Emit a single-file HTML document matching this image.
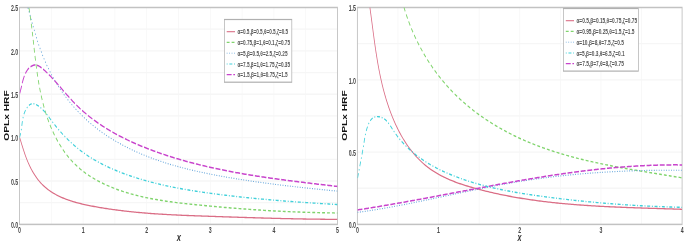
<!DOCTYPE html>
<html><head><meta charset="utf-8"><style>
html,body{margin:0;padding:0;background:#fff;}
svg{display:block;}
</style></head><body>
<svg width="685" height="244" viewBox="0 0 685 244" font-family="'Liberation Sans', Arial, sans-serif">
<defs>
<clipPath id="clipL"><rect x="32.50" y="7.5" width="530.00" height="216.90"/></clipPath>
<clipPath id="clipR"><rect x="595.67" y="7.5" width="541.17" height="216.90"/></clipPath>
</defs>
<rect width="685" height="244" fill="#fff"/>
<g transform="scale(0.6,1)">
<g stroke="#f6f6f6" stroke-width="1.3">
<line x1="85.50" y1="7.5" x2="85.50" y2="224.4"/>
<line x1="138.50" y1="7.5" x2="138.50" y2="224.4"/>
<line x1="191.50" y1="7.5" x2="191.50" y2="224.4"/>
<line x1="244.50" y1="7.5" x2="244.50" y2="224.4"/>
<line x1="297.50" y1="7.5" x2="297.50" y2="224.4"/>
<line x1="350.50" y1="7.5" x2="350.50" y2="224.4"/>
<line x1="403.50" y1="7.5" x2="403.50" y2="224.4"/>
<line x1="456.50" y1="7.5" x2="456.50" y2="224.4"/>
<line x1="509.50" y1="7.5" x2="509.50" y2="224.4"/>
<line x1="32.50" y1="202.71" x2="562.50" y2="202.71"/>
<line x1="32.50" y1="181.02" x2="562.50" y2="181.02"/>
<line x1="32.50" y1="159.33" x2="562.50" y2="159.33"/>
<line x1="32.50" y1="137.64" x2="562.50" y2="137.64"/>
<line x1="32.50" y1="115.95" x2="562.50" y2="115.95"/>
<line x1="32.50" y1="94.26" x2="562.50" y2="94.26"/>
<line x1="32.50" y1="72.57" x2="562.50" y2="72.57"/>
<line x1="32.50" y1="50.88" x2="562.50" y2="50.88"/>
<line x1="32.50" y1="29.19" x2="562.50" y2="29.19"/>
<line x1="663.31" y1="7.5" x2="663.31" y2="224.4"/>
<line x1="730.96" y1="7.5" x2="730.96" y2="224.4"/>
<line x1="798.60" y1="7.5" x2="798.60" y2="224.4"/>
<line x1="866.25" y1="7.5" x2="866.25" y2="224.4"/>
<line x1="933.90" y1="7.5" x2="933.90" y2="224.4"/>
<line x1="1001.54" y1="7.5" x2="1001.54" y2="224.4"/>
<line x1="1069.19" y1="7.5" x2="1069.19" y2="224.4"/>
<line x1="595.67" y1="188.25" x2="1136.83" y2="188.25"/>
<line x1="595.67" y1="152.10" x2="1136.83" y2="152.10"/>
<line x1="595.67" y1="115.95" x2="1136.83" y2="115.95"/>
<line x1="595.67" y1="79.80" x2="1136.83" y2="79.80"/>
<line x1="595.67" y1="43.65" x2="1136.83" y2="43.65"/>
</g>
<g fill="none" stroke="#c2c2c2" stroke-width="1.5">
<rect x="32.50" y="7.5" width="530.00" height="216.90"/>
<rect x="595.67" y="7.5" width="541.17" height="216.90"/>
</g>
<path d="M32.85,137.71 L33.39,138.76 L33.93,139.82 L34.48,140.90 L35.03,141.98 L35.58,143.08 L36.14,144.18 L36.71,145.29 L37.28,146.40 L37.87,147.52 L38.46,148.65 L39.06,149.78 L39.68,150.91 L40.31,152.05 L40.95,153.18 L41.60,154.32 L42.27,155.46 L42.96,156.60 L43.67,157.73 L44.39,158.87 L45.13,160.00 L45.90,161.13 L46.68,162.25 L47.48,163.37 L48.31,164.48 L49.16,165.58 L50.04,166.68 L50.94,167.77 L51.87,168.85 L52.82,169.91 L53.79,170.97 L54.79,172.02 L55.81,173.06 L56.86,174.08 L57.93,175.09 L59.03,176.08 L60.16,177.06 L61.31,178.03 L62.48,178.97 L63.68,179.90 L64.91,180.82 L66.17,181.71 L67.45,182.59 L68.75,183.44 L70.08,184.28 L71.44,185.09 L72.83,185.88 L74.24,186.65 L75.67,187.41 L77.13,188.14 L78.61,188.86 L80.11,189.55 L81.64,190.23 L83.18,190.89 L84.75,191.54 L86.34,192.16 L87.95,192.77 L89.58,193.36 L91.23,193.94 L92.90,194.50 L94.58,195.04 L96.29,195.57 L98.01,196.08 L99.74,196.58 L101.50,197.07 L103.26,197.54 L105.05,198.00 L106.84,198.44 L108.65,198.87 L110.48,199.29 L112.31,199.70 L114.16,200.09 L116.02,200.48 L117.90,200.85 L119.78,201.21 L121.67,201.56 L123.57,201.90 L125.48,202.24 L127.40,202.56 L129.33,202.87 L131.26,203.17 L133.21,203.47 L135.15,203.76 L137.11,204.04 L139.07,204.31 L141.03,204.57 L143.00,204.83 L144.97,205.08 L146.94,205.33 L148.92,205.57 L150.90,205.80 L152.88,206.03 L154.86,206.26 L156.84,206.48 L158.82,206.70 L160.80,206.91 L162.79,207.12 L164.76,207.32 L166.74,207.53 L168.72,207.73 L170.70,207.92 L172.68,208.11 L174.65,208.30 L176.63,208.49 L178.60,208.67 L180.57,208.85 L182.55,209.03 L184.52,209.20 L186.49,209.37 L188.46,209.53 L190.43,209.70 L192.40,209.86 L194.37,210.02 L196.34,210.17 L198.31,210.32 L200.27,210.47 L202.24,210.62 L204.21,210.76 L206.17,210.90 L208.14,211.04 L210.10,211.18 L212.07,211.31 L214.03,211.44 L215.99,211.57 L217.96,211.69 L219.92,211.82 L221.88,211.94 L223.84,212.06 L225.80,212.17 L227.77,212.28 L229.73,212.40 L231.69,212.50 L233.65,212.61 L235.61,212.72 L237.57,212.82 L239.53,212.92 L241.48,213.02 L243.44,213.11 L245.40,213.21 L247.36,213.30 L249.32,213.39 L251.28,213.48 L253.23,213.56 L255.19,213.65 L257.15,213.73 L259.11,213.81 L261.06,213.89 L263.02,213.97 L264.98,214.04 L266.93,214.12 L268.89,214.19 L270.85,214.26 L272.81,214.33 L274.76,214.40 L276.72,214.47 L278.68,214.54 L280.63,214.60 L282.59,214.66 L284.55,214.72 L286.51,214.78 L288.46,214.84 L290.42,214.90 L292.38,214.96 L294.34,215.02 L296.29,215.07 L298.25,215.12 L300.21,215.18 L302.17,215.23 L304.13,215.28 L306.09,215.33 L308.04,215.38 L310.00,215.43 L311.96,215.48 L313.92,215.52 L315.88,215.57 L317.84,215.62 L319.81,215.66 L321.77,215.71 L323.73,215.75 L325.69,215.79 L327.65,215.84 L329.62,215.88 L331.58,215.92 L333.54,215.97 L335.51,216.01 L337.47,216.05 L339.44,216.09 L341.40,216.13 L343.37,216.17 L345.33,216.21 L347.30,216.25 L349.27,216.29 L351.24,216.33 L353.21,216.37 L355.17,216.41 L357.14,216.46 L359.12,216.50 L361.09,216.54 L363.06,216.58 L365.03,216.62 L367.00,216.66 L368.97,216.70 L370.95,216.74 L372.92,216.78 L374.90,216.82 L376.87,216.86 L378.85,216.90 L380.82,216.94 L382.80,216.98 L384.77,217.02 L386.75,217.06 L388.73,217.09 L390.70,217.13 L392.68,217.17 L394.66,217.21 L396.63,217.25 L398.61,217.29 L400.59,217.33 L402.57,217.37 L404.55,217.40 L406.53,217.44 L408.51,217.48 L410.49,217.52 L412.47,217.55 L414.45,217.59 L416.43,217.63 L418.41,217.67 L420.39,217.70 L422.37,217.74 L424.35,217.77 L426.33,217.81 L428.31,217.85 L430.29,217.88 L432.27,217.92 L434.25,217.95 L436.23,217.99 L438.21,218.02 L440.19,218.05 L442.17,218.09 L444.15,218.12 L446.13,218.15 L448.11,218.19 L450.09,218.22 L452.07,218.25 L454.05,218.28 L456.03,218.31 L458.01,218.35 L459.99,218.38 L461.97,218.41 L463.95,218.44 L465.93,218.47 L467.90,218.50 L469.88,218.53 L471.86,218.55 L473.84,218.58 L475.82,218.61 L477.79,218.64 L479.77,218.66 L481.75,218.69 L483.72,218.72 L485.70,218.74 L487.68,218.77 L489.65,218.79 L491.63,218.82 L493.60,218.84 L495.57,218.87 L497.55,218.89 L499.52,218.91 L501.49,218.93 L503.47,218.96 L505.44,218.98 L507.41,219.00 L509.38,219.02 L511.35,219.04 L513.32,219.06 L515.29,219.08 L517.26,219.09 L519.23,219.11 L521.20,219.13 L523.16,219.15 L525.13,219.16 L527.10,219.18 L529.06,219.19 L531.03,219.21 L532.99,219.22 L534.95,219.23 L536.92,219.25 L538.88,219.26 L540.84,219.27 L542.80,219.28 L544.76,219.29 L546.72,219.30 L548.68,219.31 L550.63,219.32 L552.59,219.32 L554.55,219.33 L556.50,219.34 L558.45,219.34 L560.41,219.35 L562.36,219.35" fill="none" stroke="#da6d85" stroke-width="1.3" clip-path="url(#clipL)"/>
<path d="M48.24,7.82 L48.63,9.22 L49.01,10.62 L49.38,12.03 L49.74,13.44 L50.09,14.86 L50.44,16.27 L50.77,17.69 L51.10,19.12 L51.43,20.54 L51.75,21.97 L52.06,23.40 L52.36,24.84 L52.66,26.28 L52.96,27.72 L53.25,29.16 L53.54,30.60 L53.82,32.05 L54.10,33.50 L54.38,34.95 L54.66,36.40 L54.93,37.86 L55.21,39.31 L55.48,40.77 L55.75,42.23 L56.02,43.69 L56.29,45.15 L56.56,46.61 L56.83,48.08 L57.10,49.54 L57.38,51.01 L57.66,52.47 L57.94,53.94 L58.22,55.40 L58.50,56.87 L58.79,58.34 L59.08,59.81 L59.38,61.27 L59.68,62.74 L59.99,64.21 L60.30,65.68 L60.62,67.14 L60.95,68.61 L61.28,70.08 L61.62,71.54 L61.97,73.01 L62.32,74.47 L62.69,75.93 L63.06,77.39 L63.44,78.86 L63.83,80.31 L64.23,81.77 L64.64,83.23 L65.07,84.68 L65.50,86.14 L65.95,87.59 L66.40,89.04 L66.87,90.48 L67.36,91.93 L67.85,93.37 L68.36,94.81 L68.88,96.25 L69.42,97.69 L69.97,99.12 L70.54,100.55 L71.12,101.98 L71.72,103.40 L72.34,104.82 L72.97,106.24 L73.62,107.65 L74.29,109.06 L74.97,110.47 L75.68,111.88 L76.40,113.28 L77.14,114.67 L77.90,116.07 L78.68,117.46 L79.48,118.84 L80.30,120.22 L81.15,121.60 L82.01,122.97 L82.90,124.34 L83.81,125.70 L84.74,127.06 L85.69,128.41 L86.67,129.76 L87.67,131.10 L88.70,132.43 L89.75,133.76 L90.82,135.08 L91.91,136.40 L93.03,137.70 L94.18,139.00 L95.35,140.29 L96.54,141.57 L97.76,142.85 L99.00,144.11 L100.27,145.36 L101.56,146.60 L102.88,147.83 L104.22,149.05 L105.59,150.26 L106.98,151.45 L108.40,152.63 L109.85,153.80 L111.32,154.96 L112.82,156.10 L114.35,157.23 L115.90,158.34 L117.48,159.44 L119.08,160.53 L120.72,161.59 L122.38,162.65 L124.06,163.68 L125.78,164.70 L127.52,165.70 L129.29,166.69 L131.09,167.65 L132.92,168.60 L134.77,169.53 L136.65,170.44 L138.55,171.34 L140.48,172.21 L142.43,173.08 L144.40,173.92 L146.39,174.75 L148.41,175.56 L150.45,176.35 L152.50,177.13 L154.58,177.90 L156.67,178.65 L158.78,179.38 L160.90,180.10 L163.04,180.80 L165.20,181.49 L167.37,182.16 L169.55,182.82 L171.75,183.47 L173.96,184.10 L176.17,184.72 L178.40,185.33 L180.64,185.92 L182.89,186.50 L185.14,187.06 L187.40,187.62 L189.67,188.16 L191.94,188.69 L194.22,189.20 L196.51,189.71 L198.81,190.20 L201.11,190.68 L203.42,191.15 L205.73,191.61 L208.05,192.06 L210.37,192.50 L212.70,192.93 L215.04,193.35 L217.38,193.75 L219.73,194.15 L222.08,194.54 L224.44,194.92 L226.80,195.29 L229.17,195.64 L231.54,196.00 L233.91,196.34 L236.29,196.67 L238.68,197.00 L241.06,197.31 L243.46,197.62 L245.85,197.92 L248.25,198.21 L250.65,198.50 L253.06,198.78 L255.47,199.05 L257.88,199.31 L260.30,199.57 L262.72,199.82 L265.14,200.07 L267.56,200.31 L269.99,200.54 L272.41,200.77 L274.84,200.99 L277.28,201.21 L279.71,201.42 L282.14,201.62 L284.58,201.82 L287.02,202.02 L289.46,202.21 L291.90,202.40 L294.34,202.59 L296.79,202.77 L299.23,202.94 L301.67,203.12 L304.12,203.29 L306.56,203.45 L309.01,203.62 L311.45,203.78 L313.90,203.94 L316.34,204.10 L318.79,204.25 L321.23,204.40 L323.68,204.55 L326.12,204.70 L328.56,204.85 L331.00,205.00 L333.44,205.14 L335.88,205.29 L338.32,205.43 L340.75,205.57 L343.19,205.71 L345.62,205.85 L348.06,205.99 L350.49,206.13 L352.92,206.27 L355.36,206.40 L357.79,206.54 L360.22,206.67 L362.65,206.80 L365.08,206.93 L367.51,207.06 L369.93,207.19 L372.36,207.31 L374.79,207.44 L377.21,207.56 L379.64,207.69 L382.07,207.81 L384.49,207.93 L386.92,208.05 L389.34,208.17 L391.77,208.28 L394.19,208.40 L396.62,208.51 L399.04,208.62 L401.46,208.74 L403.89,208.85 L406.31,208.95 L408.74,209.06 L411.16,209.17 L413.58,209.27 L416.01,209.38 L418.43,209.48 L420.86,209.58 L423.28,209.68 L425.70,209.78 L428.13,209.87 L430.55,209.97 L432.98,210.06 L435.41,210.16 L437.83,210.25 L440.26,210.34 L442.69,210.43 L445.11,210.51 L447.54,210.60 L449.97,210.69 L452.40,210.77 L454.83,210.85 L457.26,210.93 L459.69,211.01 L462.12,211.09 L464.55,211.16 L466.99,211.24 L469.42,211.31 L471.85,211.38 L474.29,211.45 L476.73,211.52 L479.16,211.59 L481.60,211.65 L484.04,211.72 L486.48,211.78 L488.92,211.84 L491.36,211.90 L493.81,211.96 L496.25,212.02 L498.70,212.07 L501.14,212.13 L503.59,212.18 L506.04,212.23 L508.49,212.28 L510.95,212.33 L513.40,212.37 L515.85,212.42 L518.31,212.46 L520.77,212.50 L523.23,212.54 L525.69,212.58 L528.15,212.62 L530.61,212.65 L533.08,212.69 L535.55,212.72 L538.02,212.75 L540.49,212.78 L542.96,212.81 L545.43,212.83 L547.91,212.86 L550.39,212.88 L552.87,212.90 L555.35,212.92 L557.83,212.94 L560.32,212.95 L562.81,212.97" fill="none" stroke="#80d46d" stroke-width="1.4" stroke-dasharray="4.8,3.4" clip-path="url(#clipL)"/>
<path d="M46.45,7.49 L47.03,8.75 L47.62,10.01 L48.20,11.28 L48.78,12.55 L49.37,13.82 L49.95,15.09 L50.53,16.36 L51.12,17.63 L51.70,18.90 L52.29,20.17 L52.88,21.44 L53.47,22.71 L54.06,23.99 L54.66,25.26 L55.26,26.53 L55.87,27.80 L56.48,29.07 L57.09,30.34 L57.71,31.61 L58.34,32.88 L58.97,34.15 L59.61,35.41 L60.25,36.68 L60.91,37.94 L61.57,39.20 L62.24,40.46 L62.91,41.72 L63.60,42.97 L64.29,44.23 L65.00,45.48 L65.72,46.73 L66.44,47.97 L67.18,49.21 L67.93,50.45 L68.69,51.69 L69.46,52.92 L70.25,54.15 L71.04,55.38 L71.86,56.60 L72.68,57.82 L73.52,59.04 L74.37,60.25 L75.24,61.46 L76.12,62.66 L77.02,63.86 L77.92,65.05 L78.85,66.25 L79.78,67.43 L80.73,68.61 L81.70,69.79 L82.68,70.97 L83.67,72.14 L84.68,73.30 L85.70,74.46 L86.73,75.62 L87.78,76.77 L88.85,77.91 L89.92,79.06 L91.01,80.19 L92.12,81.32 L93.24,82.45 L94.37,83.57 L95.52,84.69 L96.68,85.80 L97.86,86.91 L99.05,88.01 L100.26,89.10 L101.48,90.19 L102.71,91.28 L103.96,92.36 L105.22,93.43 L106.50,94.50 L107.79,95.56 L109.10,96.62 L110.42,97.67 L111.75,98.72 L113.10,99.76 L114.46,100.79 L115.84,101.82 L117.23,102.84 L118.64,103.86 L120.05,104.86 L121.49,105.87 L122.93,106.86 L124.39,107.85 L125.86,108.83 L127.35,109.81 L128.85,110.77 L130.36,111.73 L131.88,112.69 L133.42,113.63 L134.97,114.57 L136.53,115.50 L138.10,116.43 L139.69,117.34 L141.29,118.25 L142.90,119.15 L144.52,120.05 L146.16,120.93 L147.81,121.81 L149.46,122.67 L151.13,123.53 L152.82,124.38 L154.51,125.23 L156.21,126.06 L157.93,126.89 L159.65,127.70 L161.39,128.51 L163.13,129.31 L164.89,130.11 L166.66,130.89 L168.43,131.67 L170.22,132.43 L172.02,133.19 L173.82,133.94 L175.64,134.69 L177.46,135.42 L179.29,136.15 L181.13,136.87 L182.98,137.58 L184.84,138.28 L186.70,138.98 L188.58,139.67 L190.46,140.35 L192.35,141.02 L194.24,141.69 L196.14,142.34 L198.05,142.99 L199.97,143.64 L201.89,144.27 L203.82,144.90 L205.76,145.52 L207.70,146.13 L209.64,146.74 L211.60,147.34 L213.55,147.93 L215.52,148.51 L217.49,149.09 L219.46,149.66 L221.44,150.22 L223.42,150.78 L225.41,151.33 L227.40,151.87 L229.40,152.40 L231.41,152.93 L233.41,153.46 L235.43,153.97 L237.44,154.48 L239.47,154.98 L241.49,155.48 L243.52,155.97 L245.56,156.46 L247.60,156.93 L249.64,157.41 L251.69,157.87 L253.74,158.33 L255.79,158.79 L257.85,159.24 L259.92,159.68 L261.98,160.12 L264.05,160.55 L266.13,160.98 L268.21,161.40 L270.29,161.81 L272.37,162.22 L274.46,162.63 L276.55,163.03 L278.65,163.42 L280.74,163.81 L282.84,164.19 L284.95,164.57 L287.05,164.95 L289.16,165.32 L291.28,165.68 L293.39,166.04 L295.51,166.40 L297.63,166.75 L299.75,167.09 L301.88,167.44 L304.01,167.77 L306.14,168.11 L308.27,168.44 L310.40,168.76 L312.54,169.08 L314.68,169.40 L316.82,169.71 L318.97,170.02 L321.11,170.32 L323.26,170.63 L325.41,170.92 L327.56,171.22 L329.71,171.51 L331.86,171.79 L334.02,172.08 L336.17,172.36 L338.33,172.63 L340.49,172.90 L342.65,173.17 L344.81,173.44 L346.97,173.70 L349.14,173.97 L351.30,174.22 L353.47,174.48 L355.63,174.73 L357.80,174.98 L359.97,175.23 L362.13,175.47 L364.30,175.71 L366.47,175.95 L368.64,176.19 L370.81,176.42 L372.98,176.65 L375.15,176.88 L377.32,177.11 L379.49,177.33 L381.66,177.56 L383.83,177.78 L386.01,178.00 L388.18,178.21 L390.35,178.43 L392.52,178.64 L394.69,178.85 L396.85,179.06 L399.02,179.27 L401.19,179.48 L403.36,179.68 L405.53,179.88 L407.70,180.09 L409.87,180.29 L412.04,180.48 L414.21,180.68 L416.38,180.87 L418.55,181.07 L420.72,181.26 L422.89,181.45 L425.06,181.64 L427.23,181.82 L429.40,182.01 L431.57,182.19 L433.74,182.37 L435.91,182.55 L438.08,182.73 L440.25,182.91 L442.42,183.09 L444.59,183.26 L446.76,183.44 L448.93,183.61 L451.11,183.78 L453.28,183.95 L455.45,184.12 L457.62,184.28 L459.80,184.45 L461.97,184.61 L464.14,184.78 L466.32,184.94 L468.49,185.10 L470.67,185.26 L472.84,185.42 L475.02,185.57 L477.20,185.73 L479.37,185.89 L481.55,186.04 L483.73,186.19 L485.91,186.34 L488.09,186.49 L490.27,186.64 L492.45,186.79 L494.63,186.94 L496.81,187.09 L498.99,187.23 L501.18,187.38 L503.36,187.52 L505.54,187.66 L507.73,187.81 L509.91,187.95 L512.10,188.09 L514.29,188.23 L516.48,188.37 L518.67,188.50 L520.85,188.64 L523.05,188.78 L525.24,188.91 L527.43,189.05 L529.62,189.18 L531.82,189.31 L534.01,189.45 L536.21,189.58 L538.40,189.71 L540.60,189.84 L542.80,189.97 L545.00,190.10 L547.20,190.23 L549.40,190.36 L551.60,190.49 L553.81,190.61 L556.01,190.74 L558.22,190.87 L560.42,190.99 L562.63,191.12" fill="none" stroke="#5a9fd8" stroke-width="1.15" stroke-dasharray="1.4,2.7" clip-path="url(#clipL)"/>
<path d="M32.34,137.50 L33.03,136.36 L33.63,135.21 L34.15,134.04 L34.60,132.86 L34.99,131.66 L35.33,130.45 L35.64,129.23 L35.91,127.99 L36.17,126.75 L36.41,125.50 L36.66,124.25 L36.92,122.99 L37.20,121.72 L37.52,120.45 L37.88,119.19 L38.29,117.92 L38.76,116.65 L39.31,115.38 L39.94,114.12 L40.67,112.86 L41.49,111.62 L42.42,110.40 L43.43,109.23 L44.54,108.12 L45.72,107.09 L46.99,106.17 L48.34,105.36 L49.76,104.69 L51.25,104.18 L52.80,103.84 L54.41,103.69 L56.08,103.73 L57.79,103.96 L59.52,104.35 L61.26,104.87 L63.01,105.51 L64.73,106.24 L66.43,107.04 L68.08,107.90 L69.67,108.78 L71.21,109.69 L72.69,110.61 L74.11,111.55 L75.50,112.51 L76.84,113.47 L78.16,114.45 L79.44,115.44 L80.70,116.43 L81.95,117.43 L83.18,118.43 L84.41,119.43 L85.64,120.43 L86.88,121.43 L88.12,122.43 L89.38,123.42 L90.66,124.41 L91.94,125.39 L93.24,126.36 L94.56,127.33 L95.88,128.29 L97.22,129.25 L98.58,130.20 L99.94,131.14 L101.32,132.08 L102.71,133.01 L104.11,133.94 L105.53,134.85 L106.96,135.77 L108.40,136.67 L109.86,137.57 L111.32,138.45 L112.80,139.34 L114.29,140.21 L115.80,141.08 L117.31,141.93 L118.84,142.78 L120.38,143.62 L121.94,144.46 L123.50,145.28 L125.08,146.10 L126.66,146.90 L128.26,147.70 L129.87,148.49 L131.50,149.27 L133.13,150.04 L134.78,150.80 L136.44,151.55 L138.10,152.29 L139.78,153.02 L141.47,153.74 L143.18,154.45 L144.89,155.15 L146.61,155.85 L148.35,156.53 L150.09,157.20 L151.84,157.86 L153.61,158.51 L155.38,159.16 L157.16,159.79 L158.95,160.42 L160.75,161.03 L162.56,161.64 L164.38,162.24 L166.20,162.83 L168.04,163.41 L169.88,163.99 L171.72,164.55 L173.58,165.11 L175.44,165.66 L177.31,166.20 L179.19,166.74 L181.07,167.26 L182.96,167.78 L184.85,168.30 L186.75,168.80 L188.65,169.30 L190.56,169.79 L192.48,170.27 L194.40,170.75 L196.32,171.22 L198.25,171.68 L200.18,172.14 L202.12,172.59 L204.06,173.04 L206.00,173.48 L207.95,173.91 L209.90,174.34 L211.86,174.76 L213.81,175.18 L215.77,175.59 L217.73,175.99 L219.70,176.39 L221.67,176.79 L223.64,177.17 L225.61,177.56 L227.59,177.93 L229.56,178.31 L231.55,178.67 L233.53,179.04 L235.52,179.39 L237.51,179.75 L239.50,180.09 L241.49,180.44 L243.49,180.77 L245.49,181.11 L247.49,181.44 L249.49,181.76 L251.50,182.08 L253.50,182.39 L255.51,182.70 L257.52,183.01 L259.54,183.31 L261.55,183.61 L263.57,183.90 L265.59,184.19 L267.61,184.47 L269.64,184.76 L271.66,185.03 L273.69,185.30 L275.72,185.57 L277.75,185.84 L279.78,186.10 L281.81,186.36 L283.85,186.61 L285.88,186.86 L287.92,187.11 L289.96,187.35 L292.00,187.59 L294.04,187.83 L296.09,188.06 L298.13,188.29 L300.18,188.52 L302.22,188.75 L304.27,188.97 L306.32,189.19 L308.37,189.40 L310.42,189.61 L312.47,189.82 L314.52,190.03 L316.58,190.24 L318.63,190.44 L320.69,190.64 L322.74,190.83 L324.80,191.03 L326.86,191.22 L328.91,191.41 L330.97,191.60 L333.03,191.78 L335.09,191.97 L337.15,192.15 L339.21,192.33 L341.27,192.50 L343.33,192.68 L345.39,192.85 L347.45,193.02 L349.51,193.19 L351.57,193.36 L353.63,193.53 L355.70,193.69 L357.76,193.86 L359.82,194.02 L361.88,194.18 L363.94,194.34 L366.00,194.50 L368.07,194.65 L370.13,194.81 L372.19,194.96 L374.25,195.11 L376.31,195.26 L378.37,195.41 L380.44,195.56 L382.50,195.71 L384.56,195.85 L386.62,195.99 L388.69,196.14 L390.75,196.28 L392.81,196.42 L394.87,196.56 L396.94,196.69 L399.00,196.83 L401.06,196.96 L403.12,197.10 L405.19,197.23 L407.25,197.36 L409.31,197.49 L411.38,197.62 L413.44,197.74 L415.51,197.87 L417.57,197.99 L419.63,198.12 L421.70,198.24 L423.76,198.36 L425.83,198.48 L427.89,198.60 L429.96,198.72 L432.02,198.83 L434.09,198.95 L436.15,199.07 L438.22,199.18 L440.28,199.29 L442.35,199.40 L444.41,199.51 L446.48,199.62 L448.55,199.73 L450.61,199.84 L452.68,199.95 L454.75,200.05 L456.81,200.16 L458.88,200.26 L460.95,200.36 L463.02,200.47 L465.09,200.57 L467.15,200.67 L469.22,200.77 L471.29,200.86 L473.36,200.96 L475.43,201.06 L477.50,201.15 L479.57,201.25 L481.64,201.34 L483.71,201.44 L485.78,201.53 L487.85,201.62 L489.92,201.71 L491.99,201.80 L494.06,201.89 L496.13,201.98 L498.20,202.07 L500.27,202.16 L502.35,202.25 L504.42,202.33 L506.49,202.42 L508.57,202.50 L510.64,202.59 L512.71,202.67 L514.79,202.76 L516.86,202.84 L518.93,202.92 L521.01,203.00 L523.08,203.08 L525.16,203.16 L527.24,203.24 L529.31,203.32 L531.39,203.40 L533.46,203.48 L535.54,203.56 L537.62,203.64 L539.70,203.71 L541.77,203.79 L543.85,203.87 L545.93,203.94 L548.01,204.02 L550.09,204.09 L552.17,204.17 L554.25,204.24 L556.33,204.32 L558.41,204.39 L560.49,204.46 L562.57,204.53" fill="none" stroke="#40d0da" stroke-width="1.35" stroke-dasharray="5,2.9,1.5,2.9" clip-path="url(#clipL)"/>
<path d="M32.86,93.32 L33.33,92.44 L33.79,91.47 L34.24,90.43 L34.69,89.32 L35.14,88.16 L35.60,86.94 L36.07,85.68 L36.57,84.39 L37.09,83.08 L37.65,81.75 L38.24,80.41 L38.88,79.07 L39.58,77.74 L40.33,76.44 L41.14,75.15 L42.02,73.91 L42.98,72.70 L44.02,71.55 L45.15,70.46 L46.38,69.44 L47.70,68.50 L49.13,67.65 L50.65,66.89 L52.24,66.25 L53.90,65.72 L55.59,65.34 L57.30,65.11 L59.02,65.04 L60.72,65.14 L62.41,65.41 L64.07,65.82 L65.71,66.35 L67.34,66.98 L68.95,67.69 L70.54,68.47 L72.11,69.28 L73.67,70.11 L75.21,70.96 L76.73,71.81 L78.24,72.68 L79.73,73.55 L81.21,74.44 L82.67,75.33 L84.13,76.23 L85.57,77.14 L87.00,78.05 L88.42,78.97 L89.84,79.90 L91.24,80.83 L92.64,81.76 L94.03,82.70 L95.41,83.64 L96.79,84.59 L98.17,85.54 L99.54,86.49 L100.91,87.44 L102.27,88.40 L103.64,89.35 L105.00,90.30 L106.37,91.25 L107.74,92.21 L109.10,93.16 L110.48,94.10 L111.85,95.05 L113.23,95.99 L114.61,96.93 L116.00,97.86 L117.40,98.79 L118.80,99.71 L120.21,100.63 L121.63,101.54 L123.06,102.44 L124.50,103.33 L125.95,104.22 L127.41,105.10 L128.89,105.97 L130.37,106.83 L131.87,107.69 L133.37,108.54 L134.89,109.37 L136.42,110.21 L137.96,111.03 L139.50,111.84 L141.06,112.65 L142.63,113.45 L144.21,114.25 L145.80,115.03 L147.39,115.81 L149.00,116.58 L150.62,117.34 L152.24,118.10 L153.88,118.85 L155.52,119.59 L157.17,120.32 L158.83,121.05 L160.50,121.77 L162.18,122.48 L163.87,123.19 L165.57,123.89 L167.27,124.58 L168.98,125.27 L170.70,125.94 L172.43,126.62 L174.16,127.28 L175.90,127.94 L177.65,128.60 L179.41,129.24 L181.18,129.88 L182.95,130.52 L184.73,131.14 L186.51,131.76 L188.30,132.38 L190.10,132.99 L191.90,133.59 L193.72,134.19 L195.53,134.78 L197.36,135.37 L199.19,135.95 L201.02,136.52 L202.86,137.09 L204.71,137.65 L206.56,138.21 L208.42,138.76 L210.28,139.31 L212.15,139.85 L214.02,140.38 L215.90,140.91 L217.78,141.44 L219.66,141.96 L221.56,142.47 L223.45,142.98 L225.35,143.49 L227.25,143.99 L229.16,144.48 L231.07,144.97 L232.99,145.45 L234.91,145.93 L236.83,146.41 L238.75,146.88 L240.68,147.35 L242.61,147.81 L244.55,148.27 L246.49,148.72 L248.43,149.17 L250.37,149.61 L252.31,150.05 L254.26,150.49 L256.21,150.92 L258.16,151.35 L260.12,151.77 L262.08,152.19 L264.03,152.61 L265.99,153.02 L267.95,153.43 L269.92,153.83 L271.88,154.23 L273.85,154.63 L275.81,155.02 L277.78,155.41 L279.75,155.80 L281.73,156.18 L283.70,156.56 L285.68,156.93 L287.65,157.30 L289.63,157.67 L291.61,158.04 L293.59,158.40 L295.58,158.76 L297.56,159.11 L299.55,159.46 L301.53,159.81 L303.52,160.15 L305.51,160.49 L307.50,160.83 L309.49,161.16 L311.49,161.49 L313.48,161.82 L315.48,162.15 L317.48,162.47 L319.48,162.79 L321.48,163.10 L323.48,163.41 L325.48,163.72 L327.49,164.03 L329.49,164.33 L331.50,164.63 L333.51,164.93 L335.52,165.22 L337.53,165.51 L339.54,165.80 L341.55,166.09 L343.56,166.37 L345.58,166.65 L347.59,166.93 L349.61,167.21 L351.63,167.48 L353.65,167.75 L355.67,168.01 L357.69,168.28 L359.71,168.54 L361.73,168.80 L363.76,169.06 L365.78,169.31 L367.81,169.56 L369.83,169.81 L371.86,170.06 L373.89,170.31 L375.92,170.55 L377.95,170.79 L379.98,171.03 L382.01,171.26 L384.05,171.50 L386.08,171.73 L388.11,171.96 L390.15,172.18 L392.19,172.41 L394.22,172.63 L396.26,172.85 L398.30,173.07 L400.34,173.29 L402.38,173.50 L404.42,173.71 L406.46,173.93 L408.50,174.13 L410.54,174.34 L412.58,174.55 L414.63,174.75 L416.67,174.95 L418.72,175.15 L420.76,175.35 L422.81,175.55 L424.85,175.74 L426.90,175.94 L428.95,176.13 L430.99,176.32 L433.04,176.51 L435.09,176.69 L437.14,176.88 L439.19,177.06 L441.24,177.25 L443.29,177.43 L445.34,177.61 L447.39,177.79 L449.44,177.96 L451.50,178.14 L453.55,178.31 L455.60,178.49 L457.65,178.66 L459.71,178.83 L461.76,179.00 L463.81,179.17 L465.87,179.34 L467.92,179.50 L469.98,179.67 L472.03,179.83 L474.09,180.00 L476.14,180.16 L478.20,180.32 L480.25,180.48 L482.31,180.64 L484.36,180.80 L486.42,180.96 L488.47,181.12 L490.53,181.27 L492.58,181.43 L494.64,181.58 L496.70,181.74 L498.75,181.89 L500.81,182.05 L502.86,182.20 L504.92,182.35 L506.98,182.50 L509.03,182.65 L511.09,182.80 L513.14,182.95 L515.20,183.10 L517.25,183.25 L519.31,183.40 L521.36,183.55 L523.42,183.70 L525.47,183.85 L527.53,183.99 L529.58,184.14 L531.64,184.29 L533.69,184.43 L535.75,184.58 L537.80,184.73 L539.85,184.87 L541.91,185.02 L543.96,185.17 L546.01,185.31 L548.06,185.46 L550.11,185.61 L552.17,185.75 L554.22,185.90 L556.27,186.05 L558.32,186.19 L560.37,186.34 L562.42,186.49" fill="none" stroke="#c843cc" stroke-width="1.5" stroke-dasharray="8.2,2.8" clip-path="url(#clipL)"/>
<path d="M616.49,7.42 L616.83,8.88 L617.17,10.33 L617.50,11.79 L617.83,13.24 L618.16,14.70 L618.48,16.15 L618.81,17.61 L619.13,19.06 L619.45,20.51 L619.76,21.96 L620.08,23.41 L620.40,24.86 L620.71,26.30 L621.03,27.75 L621.35,29.20 L621.66,30.64 L621.98,32.09 L622.30,33.53 L622.62,34.97 L622.94,36.42 L623.27,37.86 L623.59,39.30 L623.92,40.74 L624.26,42.17 L624.59,43.61 L624.93,45.05 L625.27,46.48 L625.62,47.92 L625.97,49.35 L626.33,50.79 L626.69,52.22 L627.06,53.65 L627.43,55.08 L627.81,56.51 L628.20,57.94 L628.59,59.37 L628.99,60.79 L629.39,62.22 L629.80,63.64 L630.23,65.07 L630.65,66.49 L631.09,67.91 L631.54,69.33 L631.99,70.75 L632.46,72.17 L632.93,73.59 L633.42,75.01 L633.91,76.42 L634.41,77.84 L634.93,79.25 L635.46,80.67 L635.99,82.08 L636.54,83.49 L637.10,84.90 L637.68,86.31 L638.26,87.72 L638.86,89.13 L639.48,90.53 L640.10,91.94 L640.74,93.34 L641.40,94.74 L642.06,96.15 L642.75,97.55 L643.44,98.95 L644.16,100.35 L644.89,101.75 L645.63,103.14 L646.39,104.54 L647.17,105.93 L647.96,107.33 L648.77,108.72 L649.60,110.11 L650.45,111.49 L651.31,112.87 L652.19,114.25 L653.09,115.63 L654.00,117.00 L654.93,118.36 L655.89,119.72 L656.86,121.08 L657.85,122.43 L658.85,123.78 L659.88,125.11 L660.93,126.45 L662.00,127.77 L663.08,129.09 L664.19,130.40 L665.31,131.71 L666.46,133.00 L667.63,134.29 L668.82,135.57 L670.03,136.83 L671.26,138.09 L672.51,139.34 L673.78,140.58 L675.08,141.81 L676.40,143.03 L677.73,144.24 L679.10,145.43 L680.48,146.62 L681.89,147.79 L683.32,148.95 L684.77,150.10 L686.25,151.23 L687.75,152.35 L689.27,153.46 L690.82,154.55 L692.40,155.63 L693.99,156.69 L695.62,157.74 L697.26,158.77 L698.93,159.79 L700.63,160.79 L702.35,161.78 L704.10,162.75 L705.87,163.70 L707.67,164.63 L709.50,165.55 L711.35,166.45 L713.23,167.33 L715.14,168.19 L717.07,169.03 L719.03,169.86 L721.02,170.66 L723.03,171.45 L725.06,172.22 L727.12,172.97 L729.19,173.70 L731.29,174.42 L733.41,175.11 L735.55,175.80 L737.70,176.46 L739.87,177.11 L742.06,177.74 L744.26,178.36 L746.47,178.96 L748.70,179.55 L750.94,180.12 L753.19,180.68 L755.45,181.22 L757.72,181.75 L760.00,182.27 L762.29,182.77 L764.58,183.27 L766.89,183.75 L769.20,184.22 L771.52,184.68 L773.84,185.13 L776.17,185.57 L778.50,186.01 L780.84,186.43 L783.18,186.85 L785.53,187.26 L787.87,187.66 L790.22,188.06 L792.57,188.45 L794.92,188.83 L797.27,189.21 L799.63,189.59 L801.98,189.96 L804.33,190.32 L806.69,190.68 L809.05,191.03 L811.41,191.38 L813.77,191.72 L816.13,192.06 L818.49,192.39 L820.86,192.71 L823.22,193.04 L825.59,193.35 L827.96,193.66 L830.32,193.97 L832.69,194.27 L835.06,194.57 L837.44,194.86 L839.81,195.15 L842.19,195.43 L844.56,195.71 L846.94,195.98 L849.32,196.25 L851.70,196.52 L854.08,196.78 L856.46,197.04 L858.84,197.29 L861.22,197.54 L863.61,197.78 L866.00,198.02 L868.38,198.26 L870.77,198.49 L873.16,198.72 L875.55,198.94 L877.95,199.16 L880.34,199.38 L882.73,199.59 L885.13,199.80 L887.53,200.01 L889.92,200.21 L892.32,200.41 L894.72,200.60 L897.12,200.79 L899.52,200.98 L901.93,201.17 L904.33,201.35 L906.73,201.53 L909.14,201.70 L911.54,201.87 L913.95,202.04 L916.36,202.21 L918.77,202.37 L921.18,202.53 L923.59,202.68 L926.00,202.83 L928.41,202.98 L930.82,203.13 L933.24,203.28 L935.65,203.42 L938.06,203.56 L940.48,203.69 L942.89,203.82 L945.31,203.95 L947.73,204.08 L950.15,204.21 L952.56,204.33 L954.98,204.45 L957.40,204.57 L959.82,204.68 L962.24,204.79 L964.66,204.90 L967.09,205.01 L969.51,205.12 L971.93,205.22 L974.35,205.32 L976.78,205.42 L979.20,205.52 L981.62,205.61 L984.05,205.71 L986.47,205.80 L988.90,205.89 L991.32,205.97 L993.75,206.06 L996.17,206.14 L998.60,206.23 L1001.03,206.31 L1003.45,206.38 L1005.88,206.46 L1008.31,206.54 L1010.74,206.61 L1013.16,206.68 L1015.59,206.75 L1018.02,206.82 L1020.45,206.89 L1022.87,206.95 L1025.30,207.02 L1027.73,207.08 L1030.16,207.15 L1032.59,207.21 L1035.01,207.27 L1037.44,207.33 L1039.87,207.38 L1042.30,207.44 L1044.73,207.50 L1047.15,207.55 L1049.58,207.60 L1052.01,207.66 L1054.44,207.71 L1056.86,207.76 L1059.29,207.81 L1061.72,207.86 L1064.15,207.91 L1066.57,207.96 L1069.00,208.01 L1071.42,208.06 L1073.85,208.10 L1076.28,208.15 L1078.70,208.20 L1081.13,208.24 L1083.55,208.29 L1085.98,208.33 L1088.40,208.38 L1090.82,208.42 L1093.25,208.47 L1095.67,208.51 L1098.09,208.56 L1100.51,208.60 L1102.93,208.64 L1105.35,208.69 L1107.77,208.73 L1110.19,208.78 L1112.61,208.82 L1115.03,208.87 L1117.45,208.91 L1119.87,208.96 L1122.28,209.00 L1124.70,209.05 L1127.12,209.09 L1129.53,209.14 L1131.95,209.19 L1134.36,209.24 L1136.77,209.28" fill="none" stroke="#da6d85" stroke-width="1.3" clip-path="url(#clipR)"/>
<path d="M673.20,7.10 L673.75,8.23 L674.32,9.36 L674.89,10.49 L675.47,11.61 L676.06,12.73 L676.66,13.85 L677.28,14.97 L677.90,16.08 L678.54,17.20 L679.18,18.31 L679.84,19.42 L680.50,20.52 L681.18,21.63 L681.86,22.73 L682.56,23.83 L683.26,24.93 L683.98,26.02 L684.71,27.11 L685.44,28.20 L686.19,29.29 L686.95,30.37 L687.71,31.45 L688.49,32.53 L689.28,33.60 L690.07,34.68 L690.88,35.75 L691.70,36.81 L692.52,37.87 L693.36,38.94 L694.21,39.99 L695.06,41.05 L695.93,42.10 L696.80,43.15 L697.69,44.19 L698.58,45.23 L699.49,46.27 L700.40,47.31 L701.33,48.34 L702.26,49.37 L703.20,50.39 L704.16,51.41 L705.12,52.43 L706.09,53.45 L707.07,54.46 L708.06,55.46 L709.06,56.47 L710.07,57.47 L711.09,58.46 L712.11,59.46 L713.15,60.44 L714.20,61.43 L715.25,62.41 L716.32,63.39 L717.39,64.36 L718.47,65.33 L719.57,66.29 L720.67,67.26 L721.78,68.21 L722.90,69.17 L724.03,70.11 L725.16,71.06 L726.31,72.00 L727.46,72.93 L728.63,73.87 L729.80,74.79 L730.98,75.71 L732.17,76.63 L733.37,77.55 L734.58,78.46 L735.80,79.36 L737.02,80.26 L738.26,81.16 L739.50,82.05 L740.75,82.93 L742.01,83.81 L743.28,84.69 L744.56,85.56 L745.85,86.43 L747.14,87.29 L748.44,88.15 L749.76,89.00 L751.08,89.85 L752.40,90.69 L753.74,91.52 L755.09,92.36 L756.44,93.18 L757.80,94.00 L759.17,94.82 L760.55,95.63 L761.93,96.44 L763.33,97.24 L764.73,98.03 L766.14,98.82 L767.56,99.61 L768.98,100.39 L770.41,101.16 L771.85,101.93 L773.30,102.70 L774.76,103.46 L776.22,104.21 L777.69,104.96 L779.17,105.71 L780.65,106.45 L782.14,107.18 L783.64,107.91 L785.14,108.64 L786.66,109.36 L788.17,110.07 L789.70,110.78 L791.23,111.49 L792.77,112.19 L794.31,112.88 L795.87,113.57 L797.42,114.26 L798.99,114.94 L800.56,115.62 L802.14,116.29 L803.72,116.95 L805.31,117.61 L806.90,118.27 L808.50,118.92 L810.11,119.56 L811.72,120.21 L813.34,120.84 L814.96,121.47 L816.59,122.10 L818.23,122.72 L819.87,123.34 L821.51,123.95 L823.16,124.56 L824.82,125.16 L826.48,125.76 L828.15,126.35 L829.82,126.94 L831.49,127.53 L833.17,128.11 L834.86,128.68 L836.55,129.25 L838.24,129.81 L839.94,130.37 L841.65,130.93 L843.36,131.48 L845.07,132.03 L846.79,132.57 L848.51,133.10 L850.23,133.64 L851.96,134.16 L853.70,134.69 L855.44,135.20 L857.18,135.72 L858.92,136.23 L860.67,136.73 L862.43,137.23 L864.18,137.73 L865.94,138.22 L867.71,138.70 L869.47,139.18 L871.24,139.66 L873.02,140.13 L874.79,140.60 L876.57,141.06 L878.36,141.52 L880.14,141.98 L881.93,142.43 L883.72,142.87 L885.52,143.31 L887.32,143.75 L889.12,144.18 L890.92,144.61 L892.73,145.03 L894.54,145.45 L896.35,145.87 L898.16,146.28 L899.98,146.69 L901.80,147.09 L903.62,147.49 L905.45,147.89 L907.27,148.28 L909.10,148.66 L910.94,149.05 L912.77,149.43 L914.61,149.80 L916.45,150.18 L918.29,150.55 L920.13,150.91 L921.98,151.27 L923.83,151.63 L925.68,151.98 L927.53,152.33 L929.39,152.68 L931.24,153.03 L933.10,153.37 L934.96,153.70 L936.83,154.04 L938.69,154.37 L940.56,154.69 L942.43,155.02 L944.30,155.34 L946.17,155.66 L948.04,155.97 L949.92,156.28 L951.79,156.59 L953.67,156.89 L955.55,157.20 L957.43,157.50 L959.32,157.79 L961.20,158.09 L963.09,158.38 L964.98,158.66 L966.87,158.95 L968.76,159.23 L970.65,159.51 L972.54,159.79 L974.43,160.06 L976.33,160.34 L978.23,160.60 L980.12,160.87 L982.02,161.14 L983.92,161.40 L985.82,161.66 L987.73,161.92 L989.63,162.17 L991.53,162.42 L993.44,162.67 L995.34,162.92 L997.25,163.17 L999.16,163.41 L1001.06,163.65 L1002.97,163.89 L1004.88,164.13 L1006.79,164.37 L1008.70,164.60 L1010.61,164.83 L1012.53,165.06 L1014.44,165.29 L1016.35,165.52 L1018.26,165.74 L1020.18,165.97 L1022.09,166.19 L1024.00,166.41 L1025.92,166.63 L1027.83,166.84 L1029.75,167.06 L1031.66,167.27 L1033.58,167.48 L1035.49,167.70 L1037.41,167.90 L1039.32,168.11 L1041.24,168.32 L1043.16,168.53 L1045.07,168.73 L1046.99,168.93 L1048.90,169.13 L1050.82,169.33 L1052.73,169.53 L1054.65,169.73 L1056.56,169.93 L1058.47,170.13 L1060.39,170.32 L1062.30,170.52 L1064.21,170.71 L1066.12,170.90 L1068.04,171.10 L1069.95,171.29 L1071.86,171.48 L1073.77,171.67 L1075.68,171.86 L1077.59,172.05 L1079.50,172.24 L1081.40,172.42 L1083.31,172.61 L1085.22,172.80 L1087.12,172.98 L1089.02,173.17 L1090.93,173.35 L1092.83,173.54 L1094.73,173.72 L1096.63,173.91 L1098.53,174.09 L1100.43,174.28 L1102.33,174.46 L1104.22,174.65 L1106.12,174.83 L1108.01,175.01 L1109.90,175.20 L1111.79,175.38 L1113.68,175.57 L1115.57,175.75 L1117.46,175.94 L1119.34,176.12 L1121.23,176.31 L1123.11,176.49 L1124.99,176.68 L1126.87,176.86 L1128.75,177.05 L1130.62,177.23 L1132.50,177.42 L1134.37,177.61 L1136.24,177.80" fill="none" stroke="#80d46d" stroke-width="1.4" stroke-dasharray="4.8,3.4" clip-path="url(#clipR)"/>
<path d="M595.79,212.39 L597.61,212.24 L599.42,212.09 L601.23,211.94 L603.04,211.79 L604.85,211.64 L606.65,211.48 L608.46,211.32 L610.27,211.16 L612.08,211.00 L613.89,210.84 L615.69,210.67 L617.50,210.51 L619.30,210.34 L621.11,210.17 L622.91,210.00 L624.72,209.82 L626.52,209.65 L628.32,209.47 L630.13,209.29 L631.93,209.11 L633.73,208.93 L635.53,208.75 L637.33,208.56 L639.14,208.38 L640.94,208.19 L642.74,208.00 L644.54,207.81 L646.34,207.62 L648.13,207.43 L649.93,207.23 L651.73,207.04 L653.53,206.84 L655.33,206.64 L657.13,206.44 L658.92,206.24 L660.72,206.04 L662.52,205.84 L664.31,205.64 L666.11,205.43 L667.90,205.23 L669.70,205.02 L671.50,204.81 L673.29,204.60 L675.09,204.39 L676.88,204.18 L678.67,203.97 L680.47,203.76 L682.26,203.54 L684.06,203.33 L685.85,203.11 L687.64,202.90 L689.43,202.68 L691.23,202.46 L693.02,202.24 L694.81,202.02 L696.60,201.81 L698.40,201.58 L700.19,201.36 L701.98,201.14 L703.77,200.92 L705.56,200.70 L707.35,200.47 L709.15,200.25 L710.94,200.03 L712.73,199.80 L714.52,199.58 L716.31,199.35 L718.10,199.12 L719.89,198.90 L721.68,198.67 L723.47,198.44 L725.26,198.22 L727.05,197.99 L728.84,197.76 L730.63,197.53 L732.42,197.30 L734.21,197.08 L736.00,196.85 L737.79,196.62 L739.58,196.39 L741.37,196.16 L743.16,195.93 L744.95,195.70 L746.74,195.47 L748.53,195.24 L750.32,195.02 L752.11,194.79 L753.90,194.56 L755.69,194.33 L757.48,194.10 L759.27,193.87 L761.06,193.64 L762.85,193.42 L764.64,193.19 L766.43,192.96 L768.23,192.73 L770.02,192.51 L771.81,192.28 L773.60,192.05 L775.39,191.83 L777.18,191.60 L778.97,191.38 L780.76,191.15 L782.55,190.93 L784.35,190.70 L786.14,190.48 L787.93,190.26 L789.72,190.04 L791.51,189.82 L793.31,189.60 L795.10,189.38 L796.89,189.16 L798.68,188.94 L800.48,188.72 L802.27,188.50 L804.07,188.29 L805.86,188.07 L807.65,187.85 L809.45,187.64 L811.24,187.43 L813.04,187.22 L814.83,187.00 L816.63,186.79 L818.42,186.58 L820.22,186.38 L822.02,186.17 L823.81,185.96 L825.61,185.76 L827.41,185.55 L829.20,185.35 L831.00,185.15 L832.80,184.95 L834.60,184.75 L836.40,184.55 L838.19,184.35 L839.99,184.15 L841.79,183.96 L843.59,183.77 L845.39,183.57 L847.19,183.38 L849.00,183.19 L850.80,183.01 L852.60,182.82 L854.40,182.63 L856.20,182.45 L858.01,182.27 L859.81,182.09 L861.61,181.91 L863.42,181.73 L865.22,181.55 L867.03,181.38 L868.83,181.21 L870.64,181.04 L872.45,180.86 L874.25,180.70 L876.06,180.53 L877.87,180.36 L879.68,180.20 L881.48,180.04 L883.29,179.88 L885.10,179.72 L886.91,179.56 L888.72,179.40 L890.53,179.24 L892.34,179.09 L894.15,178.94 L895.96,178.79 L897.77,178.64 L899.59,178.49 L901.40,178.34 L903.21,178.20 L905.02,178.05 L906.84,177.91 L908.65,177.77 L910.46,177.63 L912.28,177.49 L914.09,177.36 L915.91,177.22 L917.72,177.09 L919.54,176.95 L921.35,176.82 L923.17,176.69 L924.99,176.56 L926.80,176.44 L928.62,176.31 L930.44,176.19 L932.25,176.06 L934.07,175.94 L935.89,175.82 L937.71,175.70 L939.53,175.59 L941.35,175.47 L943.16,175.36 L944.98,175.24 L946.80,175.13 L948.62,175.02 L950.44,174.91 L952.26,174.80 L954.08,174.70 L955.91,174.59 L957.73,174.49 L959.55,174.39 L961.37,174.29 L963.19,174.19 L965.01,174.09 L966.84,173.99 L968.66,173.89 L970.48,173.80 L972.30,173.71 L974.13,173.61 L975.95,173.52 L977.77,173.43 L979.60,173.35 L981.42,173.26 L983.25,173.17 L985.07,173.09 L986.89,173.01 L988.72,172.93 L990.54,172.85 L992.37,172.77 L994.19,172.69 L996.02,172.61 L997.85,172.54 L999.67,172.46 L1001.50,172.39 L1003.32,172.32 L1005.15,172.25 L1006.98,172.18 L1008.80,172.11 L1010.63,172.05 L1012.46,171.98 L1014.28,171.92 L1016.11,171.86 L1017.94,171.79 L1019.76,171.73 L1021.59,171.67 L1023.42,171.62 L1025.25,171.56 L1027.08,171.50 L1028.90,171.45 L1030.73,171.40 L1032.56,171.35 L1034.39,171.30 L1036.22,171.25 L1038.05,171.20 L1039.87,171.15 L1041.70,171.11 L1043.53,171.06 L1045.36,171.02 L1047.19,170.98 L1049.02,170.93 L1050.85,170.89 L1052.68,170.86 L1054.51,170.82 L1056.34,170.78 L1058.16,170.75 L1059.99,170.71 L1061.82,170.68 L1063.65,170.65 L1065.48,170.62 L1067.31,170.59 L1069.14,170.56 L1070.97,170.53 L1072.80,170.51 L1074.63,170.48 L1076.46,170.46 L1078.29,170.43 L1080.12,170.41 L1081.95,170.39 L1083.78,170.37 L1085.61,170.35 L1087.44,170.34 L1089.27,170.32 L1091.10,170.31 L1092.93,170.29 L1094.76,170.28 L1096.59,170.27 L1098.42,170.26 L1100.25,170.25 L1102.08,170.24 L1103.91,170.23 L1105.74,170.23 L1107.57,170.22 L1109.40,170.22 L1111.23,170.21 L1113.06,170.21 L1114.89,170.21 L1116.72,170.21 L1118.55,170.21 L1120.38,170.21 L1122.21,170.22 L1124.04,170.22 L1125.87,170.23 L1127.70,170.23 L1129.53,170.24 L1131.36,170.25 L1133.19,170.26 L1135.02,170.27 L1136.84,170.28" fill="none" stroke="#5a9fd8" stroke-width="1.15" stroke-dasharray="1.4,2.7" clip-path="url(#clipR)"/>
<path d="M595.82,209.88 L597.63,209.72 L599.44,209.55 L601.24,209.39 L603.05,209.22 L604.85,209.05 L606.66,208.89 L608.46,208.72 L610.27,208.55 L612.07,208.38 L613.88,208.21 L615.68,208.03 L617.48,207.86 L619.29,207.69 L621.09,207.51 L622.90,207.34 L624.70,207.16 L626.50,206.99 L628.31,206.81 L630.11,206.63 L631.91,206.45 L633.72,206.27 L635.52,206.09 L637.32,205.91 L639.12,205.73 L640.93,205.54 L642.73,205.36 L644.53,205.18 L646.33,204.99 L648.13,204.81 L649.94,204.62 L651.74,204.44 L653.54,204.25 L655.34,204.06 L657.14,203.87 L658.94,203.68 L660.74,203.49 L662.55,203.30 L664.35,203.11 L666.15,202.92 L667.95,202.73 L669.75,202.54 L671.55,202.34 L673.35,202.15 L675.15,201.96 L676.95,201.76 L678.75,201.57 L680.55,201.37 L682.35,201.18 L684.15,200.98 L685.95,200.78 L687.75,200.59 L689.55,200.39 L691.35,200.19 L693.15,199.99 L694.95,199.80 L696.75,199.60 L698.55,199.40 L700.35,199.20 L702.15,199.00 L703.95,198.80 L705.75,198.60 L707.55,198.40 L709.34,198.19 L711.14,197.99 L712.94,197.79 L714.74,197.59 L716.54,197.39 L718.34,197.18 L720.14,196.98 L721.94,196.78 L723.74,196.57 L725.54,196.37 L727.33,196.17 L729.13,195.96 L730.93,195.76 L732.73,195.55 L734.53,195.35 L736.33,195.15 L738.13,194.94 L739.92,194.74 L741.72,194.53 L743.52,194.33 L745.32,194.12 L747.12,193.92 L748.92,193.71 L750.72,193.50 L752.52,193.30 L754.31,193.09 L756.11,192.89 L757.91,192.68 L759.71,192.48 L761.51,192.27 L763.31,192.07 L765.11,191.86 L766.90,191.65 L768.70,191.45 L770.50,191.24 L772.30,191.04 L774.10,190.83 L775.90,190.63 L777.70,190.42 L779.50,190.22 L781.29,190.01 L783.09,189.81 L784.89,189.60 L786.69,189.40 L788.49,189.19 L790.29,188.99 L792.09,188.79 L793.89,188.58 L795.69,188.38 L797.49,188.17 L799.29,187.97 L801.09,187.77 L802.88,187.56 L804.68,187.36 L806.48,187.16 L808.28,186.96 L810.08,186.76 L811.88,186.55 L813.68,186.35 L815.48,186.15 L817.28,185.95 L819.08,185.75 L820.88,185.55 L822.68,185.35 L824.48,185.15 L826.28,184.95 L828.08,184.75 L829.88,184.56 L831.68,184.36 L833.49,184.16 L835.29,183.96 L837.09,183.77 L838.89,183.57 L840.69,183.37 L842.49,183.18 L844.29,182.98 L846.09,182.79 L847.89,182.60 L849.70,182.40 L851.50,182.21 L853.30,182.02 L855.10,181.83 L856.90,181.63 L858.71,181.44 L860.51,181.25 L862.31,181.06 L864.11,180.87 L865.92,180.69 L867.72,180.50 L869.52,180.31 L871.32,180.12 L873.13,179.94 L874.93,179.75 L876.73,179.57 L878.54,179.38 L880.34,179.20 L882.15,179.02 L883.95,178.84 L885.75,178.66 L887.56,178.47 L889.36,178.29 L891.17,178.12 L892.97,177.94 L894.78,177.76 L896.58,177.58 L898.39,177.41 L900.19,177.23 L902.00,177.06 L903.80,176.88 L905.61,176.71 L907.42,176.54 L909.22,176.37 L911.03,176.20 L912.84,176.03 L914.64,175.86 L916.45,175.69 L918.26,175.52 L920.07,175.36 L921.87,175.19 L923.68,175.03 L925.49,174.86 L927.30,174.70 L929.11,174.54 L930.91,174.38 L932.72,174.22 L934.53,174.06 L936.34,173.90 L938.15,173.75 L939.96,173.59 L941.77,173.44 L943.58,173.28 L945.39,173.13 L947.20,172.98 L949.01,172.83 L950.82,172.68 L952.63,172.53 L954.44,172.38 L956.26,172.24 L958.07,172.09 L959.88,171.95 L961.69,171.81 L963.50,171.67 L965.32,171.52 L967.13,171.39 L968.94,171.25 L970.76,171.11 L972.57,170.97 L974.38,170.84 L976.20,170.71 L978.01,170.57 L979.83,170.44 L981.64,170.31 L983.46,170.19 L985.27,170.06 L987.09,169.93 L988.91,169.81 L990.72,169.68 L992.54,169.56 L994.36,169.44 L996.17,169.32 L997.99,169.21 L999.81,169.09 L1001.63,168.97 L1003.44,168.86 L1005.26,168.75 L1007.08,168.64 L1008.90,168.53 L1010.72,168.42 L1012.54,168.31 L1014.36,168.20 L1016.18,168.10 L1018.00,168.00 L1019.82,167.90 L1021.64,167.80 L1023.46,167.70 L1025.28,167.60 L1027.11,167.51 L1028.93,167.41 L1030.75,167.32 L1032.57,167.23 L1034.40,167.14 L1036.22,167.05 L1038.05,166.97 L1039.87,166.88 L1041.69,166.80 L1043.52,166.72 L1045.34,166.64 L1047.17,166.56 L1049.00,166.48 L1050.82,166.41 L1052.65,166.34 L1054.48,166.26 L1056.30,166.19 L1058.13,166.13 L1059.96,166.06 L1061.79,165.99 L1063.61,165.93 L1065.44,165.87 L1067.27,165.81 L1069.10,165.75 L1070.93,165.70 L1072.76,165.64 L1074.59,165.59 L1076.42,165.54 L1078.26,165.49 L1080.09,165.44 L1081.92,165.40 L1083.75,165.35 L1085.59,165.31 L1087.42,165.27 L1089.25,165.23 L1091.09,165.19 L1092.92,165.16 L1094.76,165.13 L1096.59,165.10 L1098.43,165.07 L1100.26,165.04 L1102.10,165.02 L1103.93,164.99 L1105.77,164.97 L1107.61,164.95 L1109.45,164.93 L1111.29,164.92 L1113.12,164.91 L1114.96,164.89 L1116.80,164.88 L1118.64,164.88 L1120.48,164.87 L1122.32,164.87 L1124.16,164.87 L1126.01,164.87 L1127.85,164.87 L1129.69,164.88 L1131.53,164.88 L1133.38,164.89 L1135.22,164.90 L1137.06,164.92" fill="none" stroke="#c843cc" stroke-width="1.5" stroke-dasharray="8.2,2.8" clip-path="url(#clipR)"/>
<path d="M595.98,178.04 L596.38,176.69 L596.79,175.35 L597.20,174.02 L597.61,172.69 L598.02,171.37 L598.43,170.06 L598.84,168.75 L599.26,167.44 L599.67,166.14 L600.08,164.85 L600.49,163.55 L600.90,162.26 L601.31,160.97 L601.72,159.68 L602.12,158.40 L602.52,157.11 L602.92,155.82 L603.31,154.53 L603.70,153.24 L604.09,151.95 L604.47,150.66 L604.84,149.36 L605.21,148.06 L605.57,146.75 L605.93,145.44 L606.28,144.12 L606.62,142.80 L606.97,141.47 L607.32,140.14 L607.69,138.80 L608.07,137.46 L608.48,136.12 L608.92,134.77 L609.40,133.41 L609.93,132.05 L610.50,130.69 L611.12,129.33 L611.81,127.96 L612.57,126.59 L613.40,125.22 L614.31,123.88 L615.32,122.58 L616.43,121.36 L617.65,120.23 L619.00,119.23 L620.48,118.37 L622.10,117.68 L623.85,117.17 L625.70,116.83 L627.63,116.65 L629.61,116.61 L631.61,116.73 L633.61,116.97 L635.57,117.35 L637.48,117.84 L639.30,118.44 L641.02,119.15 L642.64,119.95 L644.17,120.83 L645.63,121.79 L647.02,122.81 L648.35,123.88 L649.65,124.99 L650.92,126.13 L652.16,127.30 L653.40,128.48 L654.65,129.65 L655.91,130.82 L657.19,131.97 L658.50,133.11 L659.83,134.23 L661.18,135.34 L662.55,136.43 L663.94,137.50 L665.35,138.56 L666.79,139.61 L668.25,140.64 L669.72,141.66 L671.22,142.66 L672.73,143.65 L674.26,144.63 L675.82,145.59 L677.39,146.53 L678.98,147.47 L680.58,148.39 L682.21,149.30 L683.85,150.19 L685.51,151.07 L687.18,151.94 L688.88,152.79 L690.58,153.64 L692.31,154.47 L694.05,155.28 L695.80,156.09 L697.57,156.88 L699.35,157.67 L701.15,158.44 L702.96,159.19 L704.78,159.94 L706.62,160.68 L708.46,161.40 L710.33,162.11 L712.20,162.82 L714.09,163.51 L715.98,164.19 L717.89,164.86 L719.81,165.52 L721.74,166.17 L723.68,166.81 L725.63,167.44 L727.59,168.06 L729.56,168.67 L731.53,169.27 L733.52,169.86 L735.51,170.44 L737.52,171.01 L739.53,171.57 L741.54,172.13 L743.57,172.67 L745.60,173.21 L747.64,173.74 L749.68,174.26 L751.73,174.77 L753.78,175.28 L755.84,175.77 L757.91,176.26 L759.97,176.74 L762.05,177.21 L764.12,177.68 L766.20,178.14 L768.29,178.59 L770.38,179.03 L772.47,179.47 L774.56,179.90 L776.66,180.32 L778.77,180.74 L780.87,181.15 L782.98,181.55 L785.09,181.95 L787.21,182.34 L789.33,182.72 L791.45,183.10 L793.58,183.47 L795.71,183.84 L797.84,184.20 L799.97,184.55 L802.11,184.90 L804.25,185.24 L806.39,185.58 L808.54,185.91 L810.69,186.24 L812.84,186.56 L814.99,186.87 L817.15,187.18 L819.30,187.49 L821.46,187.79 L823.63,188.09 L825.79,188.38 L827.96,188.66 L830.13,188.94 L832.30,189.22 L834.47,189.49 L836.65,189.76 L838.82,190.03 L841.00,190.29 L843.18,190.54 L845.36,190.79 L847.55,191.04 L849.73,191.29 L851.92,191.53 L854.10,191.77 L856.29,192.00 L858.48,192.23 L860.68,192.46 L862.87,192.68 L865.06,192.90 L867.26,193.12 L869.45,193.33 L871.65,193.55 L873.85,193.75 L876.04,193.96 L878.24,194.16 L880.44,194.37 L882.64,194.57 L884.84,194.76 L887.05,194.96 L889.25,195.15 L891.45,195.34 L893.65,195.53 L895.85,195.71 L898.06,195.90 L900.26,196.08 L902.46,196.26 L904.67,196.44 L906.87,196.62 L909.07,196.80 L911.27,196.97 L913.48,197.15 L915.68,197.32 L917.88,197.49 L920.09,197.66 L922.29,197.83 L924.49,198.00 L926.70,198.16 L928.90,198.32 L931.10,198.49 L933.31,198.65 L935.51,198.81 L937.71,198.96 L939.92,199.12 L942.12,199.28 L944.33,199.43 L946.53,199.58 L948.73,199.73 L950.94,199.88 L953.14,200.03 L955.35,200.17 L957.55,200.32 L959.75,200.46 L961.96,200.60 L964.16,200.74 L966.37,200.88 L968.57,201.02 L970.78,201.15 L972.99,201.29 L975.19,201.42 L977.40,201.55 L979.60,201.68 L981.81,201.81 L984.01,201.94 L986.22,202.06 L988.43,202.19 L990.63,202.31 L992.84,202.43 L995.05,202.55 L997.26,202.67 L999.46,202.79 L1001.67,202.90 L1003.88,203.02 L1006.09,203.13 L1008.30,203.24 L1010.50,203.35 L1012.71,203.46 L1014.92,203.56 L1017.13,203.67 L1019.34,203.77 L1021.55,203.88 L1023.76,203.98 L1025.97,204.08 L1028.18,204.18 L1030.39,204.27 L1032.60,204.37 L1034.81,204.46 L1037.02,204.56 L1039.24,204.65 L1041.45,204.74 L1043.66,204.83 L1045.87,204.92 L1048.09,205.00 L1050.30,205.09 L1052.51,205.17 L1054.73,205.25 L1056.94,205.33 L1059.16,205.41 L1061.37,205.49 L1063.59,205.56 L1065.80,205.64 L1068.02,205.71 L1070.23,205.78 L1072.45,205.86 L1074.67,205.92 L1076.88,205.99 L1079.10,206.06 L1081.32,206.12 L1083.54,206.19 L1085.75,206.25 L1087.97,206.31 L1090.19,206.37 L1092.41,206.43 L1094.63,206.49 L1096.85,206.54 L1099.07,206.60 L1101.29,206.65 L1103.52,206.70 L1105.74,206.75 L1107.96,206.80 L1110.18,206.85 L1112.41,206.90 L1114.63,206.94 L1116.85,206.99 L1119.08,207.03 L1121.30,207.07 L1123.53,207.11 L1125.76,207.15 L1127.98,207.18 L1130.21,207.22 L1132.44,207.25 L1134.66,207.29 L1136.89,207.32" fill="none" stroke="#40d0da" stroke-width="1.35" stroke-dasharray="5,2.9,1.5,2.9" clip-path="url(#clipR)"/>
<g font-size="9" fill="#474747" font-weight="bold">
<text x="30.17" y="228.20" text-anchor="end" textLength="12.00" lengthAdjust="spacingAndGlyphs">0.0</text>
<text x="30.17" y="184.82" text-anchor="end" textLength="12.00" lengthAdjust="spacingAndGlyphs">0.5</text>
<text x="30.17" y="141.44" text-anchor="end" textLength="12.00" lengthAdjust="spacingAndGlyphs">1.0</text>
<text x="30.17" y="98.06" text-anchor="end" textLength="12.00" lengthAdjust="spacingAndGlyphs">1.5</text>
<text x="30.17" y="54.68" text-anchor="end" textLength="12.00" lengthAdjust="spacingAndGlyphs">2.0</text>
<text x="30.17" y="11.30" text-anchor="end" textLength="12.00" lengthAdjust="spacingAndGlyphs">2.5</text>
<text x="593.33" y="228.20" text-anchor="end" textLength="12.17" lengthAdjust="spacingAndGlyphs">0.0</text>
<text x="593.33" y="155.90" text-anchor="end" textLength="12.17" lengthAdjust="spacingAndGlyphs">0.5</text>
<text x="593.33" y="83.60" text-anchor="end" textLength="12.17" lengthAdjust="spacingAndGlyphs">1.0</text>
<text x="593.33" y="11.30" text-anchor="end" textLength="12.17" lengthAdjust="spacingAndGlyphs">1.5</text>
<text x="32.50" y="233.10" text-anchor="middle" textLength="4.83" lengthAdjust="spacingAndGlyphs">0</text>
<text x="138.50" y="233.10" text-anchor="middle" textLength="4.83" lengthAdjust="spacingAndGlyphs">1</text>
<text x="244.50" y="233.10" text-anchor="middle" textLength="4.83" lengthAdjust="spacingAndGlyphs">2</text>
<text x="350.50" y="233.10" text-anchor="middle" textLength="4.83" lengthAdjust="spacingAndGlyphs">3</text>
<text x="456.50" y="233.10" text-anchor="middle" textLength="4.83" lengthAdjust="spacingAndGlyphs">4</text>
<text x="562.50" y="233.10" text-anchor="middle" textLength="4.83" lengthAdjust="spacingAndGlyphs">5</text>
<text x="595.67" y="233.10" text-anchor="middle" textLength="4.83" lengthAdjust="spacingAndGlyphs">0</text>
<text x="730.96" y="233.10" text-anchor="middle" textLength="4.83" lengthAdjust="spacingAndGlyphs">1</text>
<text x="866.25" y="233.10" text-anchor="middle" textLength="4.83" lengthAdjust="spacingAndGlyphs">2</text>
<text x="1001.54" y="233.10" text-anchor="middle" textLength="4.83" lengthAdjust="spacingAndGlyphs">3</text>
<text x="1136.83" y="233.10" text-anchor="middle" textLength="4.83" lengthAdjust="spacingAndGlyphs">4</text>
</g>
<g font-size="7.4" fill="#555" font-weight="bold">
<rect x="374.17" y="19.5" width="112.17" height="62.7" fill="#fff" stroke="#b0b0b0" stroke-width="1.2"/>
<line x1="377.83" y1="31.70" x2="391.67" y2="31.70" stroke="#da6d85" stroke-width="1.10" stroke-dashoffset="0"/>
<text x="395.67" y="34.30" text-anchor="start" textLength="84.67" lengthAdjust="spacingAndGlyphs">α=0.5,β=0.5,θ=0.5,ζ=0.5</text>
<line x1="377.83" y1="42.45" x2="391.67" y2="42.45" stroke="#80d46d" stroke-width="1.19" stroke-dasharray="4.8,3.4" stroke-dashoffset="0"/>
<text x="395.67" y="45.05" text-anchor="start" textLength="87.67" lengthAdjust="spacingAndGlyphs">α=0.75,β=1,θ=0.1,ζ=0.75</text>
<line x1="377.83" y1="53.20" x2="391.67" y2="53.20" stroke="#5a9fd8" stroke-width="0.98" stroke-dasharray="1.4,2.7" stroke-dashoffset="0"/>
<text x="395.67" y="55.80" text-anchor="start" textLength="83.50" lengthAdjust="spacingAndGlyphs">α=5,β=0.5,θ=2.5,ζ=0.25</text>
<line x1="377.83" y1="63.95" x2="391.67" y2="63.95" stroke="#40d0da" stroke-width="1.15" stroke-dasharray="5,2.9,1.5,2.9" stroke-dashoffset="7.9"/>
<text x="395.67" y="66.55" text-anchor="start" textLength="87.67" lengthAdjust="spacingAndGlyphs">α=7.5,β=1,θ=1.75,ζ=0.35</text>
<line x1="377.83" y1="74.70" x2="391.67" y2="74.70" stroke="#c843cc" stroke-width="1.27" stroke-dasharray="8.2,2.8" stroke-dashoffset="0"/>
<text x="395.67" y="77.30" text-anchor="start" textLength="83.83" lengthAdjust="spacingAndGlyphs">α=1.5,β=1,θ=0.75,ζ=1.5</text>
<rect x="939.17" y="8.5" width="125.17" height="62.599999999999994" fill="#fff" stroke="#b0b0b0" stroke-width="1.2"/>
<line x1="943.00" y1="20.70" x2="956.67" y2="20.70" stroke="#da6d85" stroke-width="1.10" stroke-dashoffset="0"/>
<text x="960.67" y="23.30" text-anchor="start" textLength="101.17" lengthAdjust="spacingAndGlyphs">α=0.5,β=0.15,θ=0.75,ζ=0.75</text>
<line x1="943.00" y1="31.45" x2="956.67" y2="31.45" stroke="#80d46d" stroke-width="1.19" stroke-dasharray="4.8,3.4" stroke-dashoffset="0"/>
<text x="960.67" y="34.05" text-anchor="start" textLength="96.83" lengthAdjust="spacingAndGlyphs">α=0.95,β=0.25,θ=1.5,ζ=1.5</text>
<line x1="943.00" y1="42.20" x2="956.67" y2="42.20" stroke="#5a9fd8" stroke-width="0.98" stroke-dasharray="1.4,2.7" stroke-dashoffset="0"/>
<text x="960.67" y="44.80" text-anchor="start" textLength="79.17" lengthAdjust="spacingAndGlyphs">α=10,β=8,θ=7.5,ζ=0.5</text>
<line x1="943.00" y1="52.95" x2="956.67" y2="52.95" stroke="#40d0da" stroke-width="1.15" stroke-dasharray="5,2.9,1.5,2.9" stroke-dashoffset="7.9"/>
<text x="960.67" y="55.55" text-anchor="start" textLength="80.33" lengthAdjust="spacingAndGlyphs">α=5,β=0.3,θ=6.5,ζ=0.1</text>
<line x1="943.00" y1="63.70" x2="956.67" y2="63.70" stroke="#c843cc" stroke-width="1.27" stroke-dasharray="8.2,2.8" stroke-dashoffset="0"/>
<text x="960.67" y="66.30" text-anchor="start" textLength="79.17" lengthAdjust="spacingAndGlyphs">α=7.5,β=7,θ=8,ζ=0.75</text>
</g>
<g font-size="11" font-weight="bold" fill="#111">
<text transform="translate(14.33,115.6) rotate(-90)" text-anchor="middle" textLength="50.4" lengthAdjust="spacingAndGlyphs">OPLx HRF</text>
<text transform="translate(579.00,115.6) rotate(-90)" text-anchor="middle" textLength="50.4" lengthAdjust="spacingAndGlyphs">OPLx HRF</text>
</g>
<g font-size="11.5" font-style="italic" fill="#333" font-weight="bold">
<text x="298.00" y="241.20" text-anchor="middle" textLength="7.00" lengthAdjust="spacingAndGlyphs">x</text>
<text x="866.00" y="241.40" text-anchor="middle" textLength="6.67" lengthAdjust="spacingAndGlyphs">x</text>
</g>
</g>
</svg>
</body></html>
